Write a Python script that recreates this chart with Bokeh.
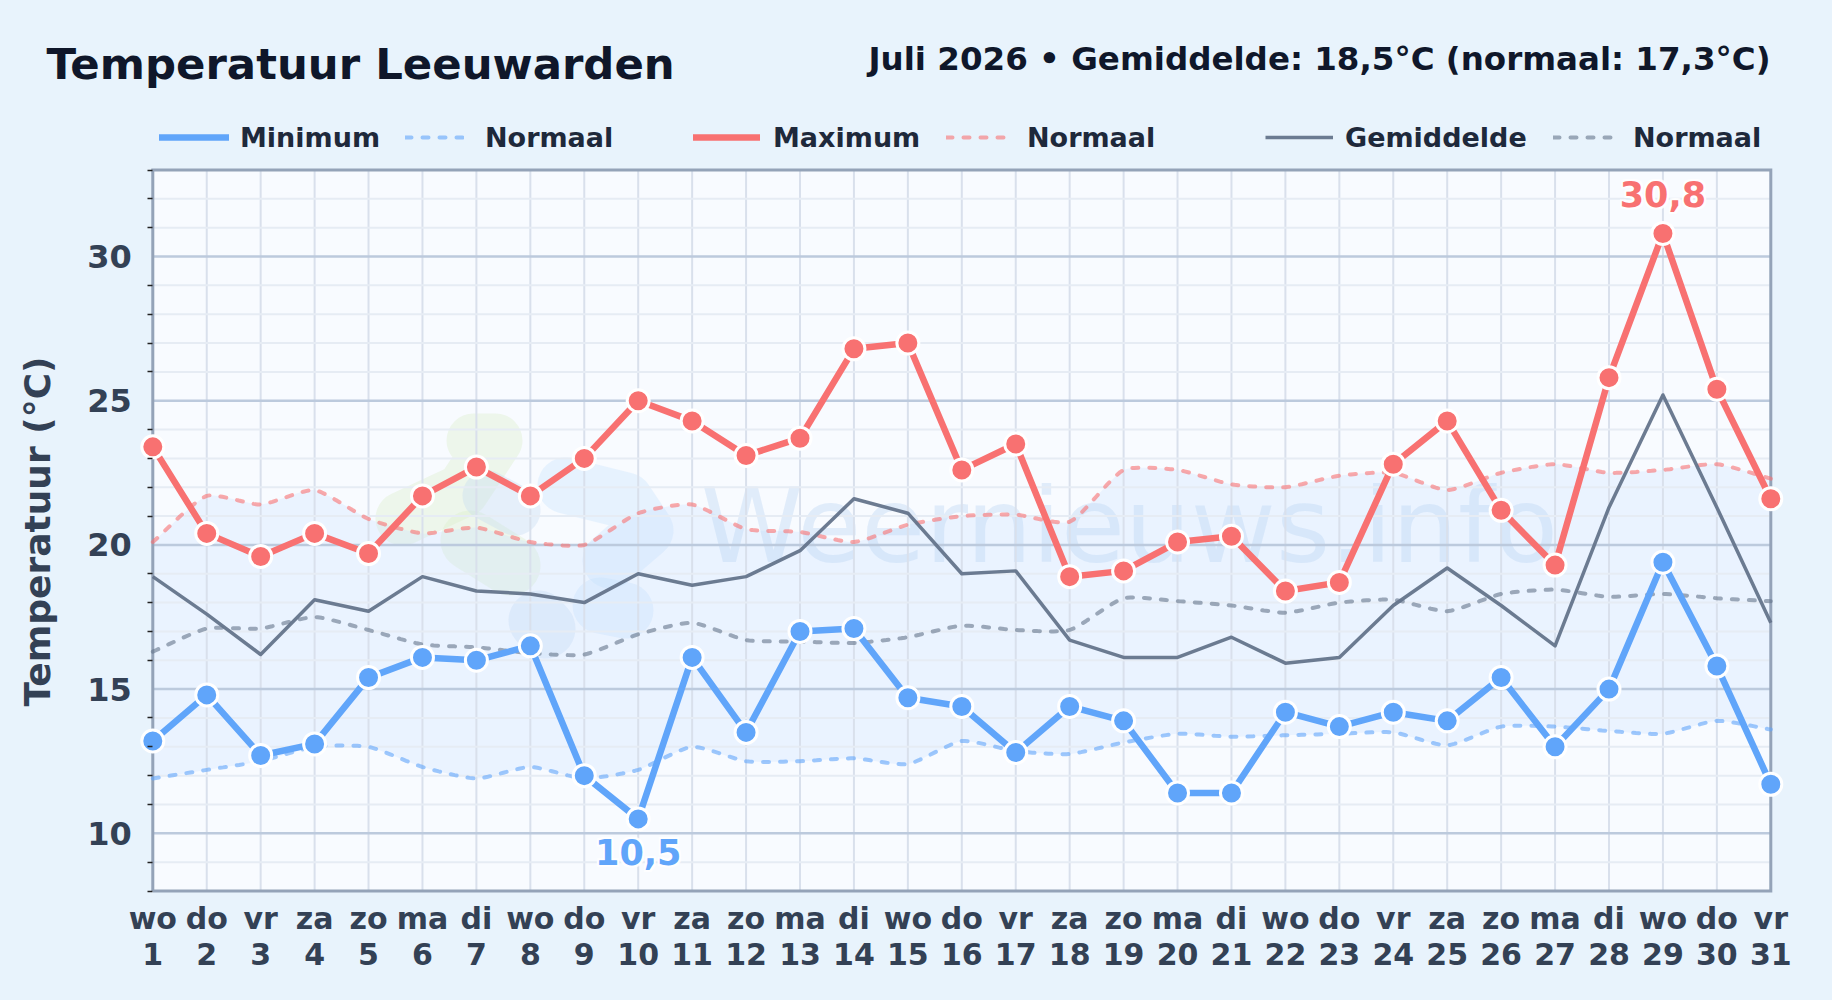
import math
from bokeh.plotting import figure
from bokeh.models import Range1d, FixedTicker, Label, Legend, LegendItem, LinearAxis
from bokeh.core.properties import value
from bokeh.embed import file_html
from bokeh.resources import INLINE

days = list(range(1, 32))
weekdays = ["wo","do","vr","za","zo","ma","di","wo","do","vr","za","zo","ma","di","wo","do","vr","za","zo","ma","di","wo","do","vr","za","zo","ma","di","wo","do","vr"]
t_max = [23.4,20.4,19.6,20.4,19.7,21.7,22.7,21.7,23.0,25.0,24.3,23.1,23.7,26.8,27.0,22.6,23.5,18.9,19.1,20.1,20.3,18.4,18.7,22.8,24.3,21.2,19.3,25.8,30.8,25.4,21.6]
t_min = [13.2,14.8,12.7,13.1,15.4,16.1,16.0,16.5,12.0,10.5,16.1,13.5,17.0,17.1,14.7,14.4,12.8,14.4,13.9,11.4,11.4,14.2,13.7,14.2,13.9,15.4,13.0,15.0,19.4,15.8,11.7]
t_mean = [18.9,17.6,16.2,18.1,17.7,18.9,18.4,18.3,18.0,19.0,18.6,18.9,19.8,21.6,21.1,19.0,19.1,16.7,16.1,16.1,16.8,15.9,16.1,17.9,19.2,17.9,16.5,21.3,25.2,21.3,17.3]
norm_max = [20.1,21.7,21.4,21.9,20.9,20.4,20.6,20.1,20.0,21.1,21.4,20.55,20.45,20.1,20.7,21.0,21.05,20.8,22.6,22.6,22.1,22.0,22.4,22.5,21.9,22.5,22.8,22.5,22.6,22.8,22.3]
norm_min = [11.9,12.2,12.5,13.0,13.0,12.3,11.9,12.3,11.9,12.2,13.0,12.5,12.5,12.6,12.4,13.2,12.85,12.75,13.15,13.45,13.35,13.4,13.45,13.5,13.05,13.7,13.7,13.55,13.45,13.9,13.6]
norm_mean = [16.3,17.1,17.1,17.5,17.05,16.55,16.45,16.25,16.2,16.9,17.3,16.7,16.65,16.6,16.8,17.2,17.05,17.05,18.15,18.05,17.9,17.65,18.0,18.1,17.7,18.3,18.45,18.2,18.3,18.15,18.05]
y_major = [10, 15, 20, 25, 30]
y_all = list(range(8, 34))

PAGE = "#e8f3fc"
BLUE, RED, GREY = "#60a5fa", "#f87171", "#64748b"
FONT = "DejaVu Sans"

# layout: the frame fills the whole figure; page pixels map onto it
W, H = 1832, 1000
X1_PX, UNIT_X = 152.3, 1618 / 30
Y33_PX, UNIT_Y = 169.5, 28.84


def px2x(px):
    return 1 + (px - X1_PX) / UNIT_X


def py2y(py):
    return 33 - (py - Y33_PX) / UNIT_Y


def sy(page_y):
    return H - page_y


def smooth(xs, ys, tension=0.2, steps=12):
    """Draw-time spline through the read values, like a chart line with tension."""
    k = UNIT_Y / UNIT_X
    n = len(xs)
    cp = []
    for i in range(n):
        a, b, c = max(i - 1, 0), i, min(i + 1, n - 1)
        d1 = ((xs[b] - xs[a]) ** 2 + ((ys[b] - ys[a]) * k) ** 2) ** .5
        d2 = ((xs[c] - xs[b]) ** 2 + ((ys[c] - ys[b]) * k) ** 2) ** .5
        s = d1 + d2
        fa, fb = tension * d1 / s, tension * d2 / s
        cp.append(((xs[b] - fa * (xs[c] - xs[a]), ys[b] - fa * (ys[c] - ys[a])),
                   (xs[b] + fb * (xs[c] - xs[a]), ys[b] + fb * (ys[c] - ys[a]))))
    ox, oy = [], []
    for i in range(n - 1):
        p0, p1, p2, p3 = (xs[i], ys[i]), cp[i][1], cp[i + 1][0], (xs[i + 1], ys[i + 1])
        for j in range(steps):
            t = j / steps
            u = 1 - t
            ox.append(u**3 * p0[0] + 3 * u*u*t * p1[0] + 3 * u*t*t * p2[0] + t**3 * p3[0])
            oy.append(u**3 * p0[1] + 3 * u*u*t * p1[1] + 3 * u*t*t * p2[1] + t**3 * p3[1])
    ox.append(xs[-1])
    oy.append(ys[-1])
    return ox, oy


p = figure(width=W, height=H, output_backend="svg", toolbar_location=None,
           x_range=Range1d(px2x(0), px2x(W)),
           y_range=Range1d(py2y(H), py2y(0)),
           frame_width=W, frame_height=H,
           min_border_left=0, min_border_right=0, min_border_top=0, min_border_bottom=0)
p.background_fill_color = PAGE
p.border_fill_color = PAGE
p.outline_line_color = None
p.xgrid.visible = False
p.ygrid.visible = False

# plot area
p.quad(left=[1], right=[31], bottom=[8], top=[33], fill_color="#f8fbff", line_color=None)

# watermark logo and text
logo = [
    ("#dcefc8", 54, [(473, 440), (495, 440), (462, 490), (402, 518)]),
    ("#dcefc8", 60, [(470, 540), (510, 565)]),
    ("#c4daf2", 50, [(487, 495), (515, 510)]),
    ("#c7e3fb", 56, [(565, 485), (625, 500), (645, 530), (610, 560)]),
    ("#c7e3fb", 56, [(600, 605), (625, 610)]),
    ("#c4daf2", 60, [(538, 620), (545, 628)]),
]
for col, w, pts in logo:
    p.line([px2x(a) for a, _ in pts], [py2y(b) for _, b in pts], line_color=col, line_alpha=0.36,
           line_width=w, line_cap="round", line_join="round")

# normal band
bx, by1 = smooth(days, norm_min)
_, by2 = smooth(days, norm_max)
p.varea(x=bx, y1=by1, y2=by2, fill_color="#bfdbfe", fill_alpha=0.24)
p.text(x=[px2x(700)], y=[py2y(525)], text=["Weernieuws.info"], text_font=value(FONT), text_font_size="104px",
       text_color="#b6d4f0", text_alpha=0.36, text_baseline="alphabetic", text_align="left")

# grid
y_minor = [v for v in y_all if v not in y_major]
p.segment(x0=days, x1=days, y0=[8] * 31, y1=[33] * 31, line_color="#d9e0ec", line_width=2)
p.segment(x0=[1] * len(y_minor), x1=[31] * len(y_minor), y0=y_minor, y1=y_minor, line_color="#e6ecf4", line_width=2)
p.segment(x0=[1] * 5, x1=[31] * 5, y0=y_major, y1=y_major, line_color="#bccadd", line_width=2.5)
p.line([1, 31, 31, 1, 1], [8, 8, 33, 33, 8], line_color="#94a3b8", line_width=3, line_join="miter")

# series
dash = dict(line_dash="6 11", line_cap="round", line_width=4)
nx, ny = smooth(days, norm_min)
r_nmin = p.line(nx, ny, line_color=BLUE, line_alpha=0.6, **dash)
nx, ny = smooth(days, norm_max)
r_nmax = p.line(nx, ny, line_color=RED, line_alpha=0.6, **dash)
nx, ny = smooth(days, norm_mean)
r_nmean = p.line(nx, ny, line_color=GREY, line_alpha=0.6, **dash)
r_mean = p.line(days, t_mean, line_color=GREY, line_alpha=0.95, line_width=3.5, line_join="round")
r_min = p.line(days, t_min, line_color=BLUE, line_width=6.5, line_join="round", line_cap="round")
p.scatter(days, t_min, size=22, fill_color=BLUE, line_color="white", line_width=3)
r_max = p.line(days, t_max, line_color=RED, line_width=6.5, line_join="round", line_cap="round")
p.scatter(days, t_max, size=22, fill_color=RED, line_color="white", line_width=3)

# peak labels
hi = t_max.index(max(t_max))
lo = t_min.index(min(t_min))
for idx, vals, col, off in [(hi, t_max, RED, -39), (lo, t_min, BLUE, 33)]:
    txt = [f"{vals[idx]:.1f}".replace(".", ",")]
    for dx, dy in [(-2, 0), (2, 0), (0, -2), (0, 2), (-2, -2), (2, 2), (-2, 2), (2, -2)]:
        p.text(x=[days[idx]], y=[vals[idx]], text=txt, x_offset=dx, y_offset=off + dy,
               text_font=value(FONT), text_font_style="bold", text_font_size="35px", text_color="white", text_alpha=0.8,
               text_align="center", text_baseline="middle")
    p.text(x=[days[idx]], y=[vals[idx]], text=txt, y_offset=off,
           text_font=value(FONT), text_font_style="bold", text_font_size="35px", text_color=col,
           text_align="center", text_baseline="middle")

# axes, pinned to the plot area
def style_x(axis, standoff):
    axis.fixed_location = 8
    axis.ticker = FixedTicker(ticks=days)
    axis.major_label_text_font = FONT
    axis.major_label_text_font_style = "bold"
    axis.major_label_text_font_size = "30px"
    axis.major_label_text_color = "#334155"
    axis.major_label_standoff = standoff
    axis.axis_line_color = None
    axis.major_tick_line_color = None
    axis.minor_tick_line_color = None


ax = p.xaxis[0]
style_x(ax, 4)
ax.major_label_overrides = {d: w for d, w in zip(days, weekdays)}
ax2 = LinearAxis()
style_x(ax2, 46)
ax2.major_label_overrides = {d: str(d) for d in days}
p.add_layout(ax2, "below")

ay = p.yaxis[0]
ay.fixed_location = 1
ay.ticker = FixedTicker(ticks=y_major, minor_ticks=y_minor)
ay.major_label_text_font = FONT
ay.major_label_text_font_style = "bold"
ay.major_label_text_font_size = "32px"
ay.major_label_text_color = "#334155"
ay.major_label_standoff = 15
ay.axis_line_color = None
ay.major_tick_line_color = None
ay.minor_tick_line_color = "#222222"
ay.minor_tick_line_width = 1.5
ay.minor_tick_in = 0
ay.minor_tick_out = 5

# axis title, title, subtitle
p.add_layout(Label(x=37, y=sy(531), x_units="screen", y_units="screen", text="Temperatuur (°C)", angle=math.pi / 2,
                   text_font=FONT, text_font_style="bold", text_font_size="36px", text_color="#334155",
                   text_align="center", text_baseline="middle"))
p.add_layout(Label(x=46, y=sy(63), x_units="screen", y_units="screen", text="Temperatuur Leeuwarden",
                   text_font=FONT, text_font_style="bold", text_font_size="43.4px", text_color="#0f172a",
                   text_baseline="alphabetic"))
p.add_layout(Label(x=1770, y=sy(58), x_units="screen", y_units="screen",
                   text="Juli 2026 • Gemiddelde: 18,5°C (normaal: 17,3°C)",
                   text_font=FONT, text_font_style="bold", text_font_size="32.5px", text_color="#0f172a",
                   text_align="right", text_baseline="alphabetic"))

# legends
for label, r, x0, w, gap in [("Minimum", r_min, 159, 70, 11), ("Normaal", r_nmin, 405, 59, 21),
                             ("Maximum", r_max, 693, 67, 13), ("Normaal", r_nmax, 946, 61, 20),
                             ("Gemiddelde", r_mean, 1265, 68, 12), ("Normaal", r_nmean, 1553, 65, 15)]:
    lg = Legend(items=[LegendItem(label=label, renderers=[r])], location=(x0, sy(139.5) - 13),
                background_fill_alpha=0, border_line_color=None, padding=0, margin=0,
                glyph_width=w, glyph_height=26, label_height=26, label_standoff=gap,
                label_text_font=FONT, label_text_font_style="bold", label_text_font_size="27px",
                label_text_color="#1e293b", label_text_baseline="middle")
    p.add_layout(lg)

html = file_html(p, INLINE)
html = html.replace("<head>", f"<head><style>html,body{{background:{PAGE};overflow:hidden}}</style>", 1)
open("out.html", "w").write(html)
